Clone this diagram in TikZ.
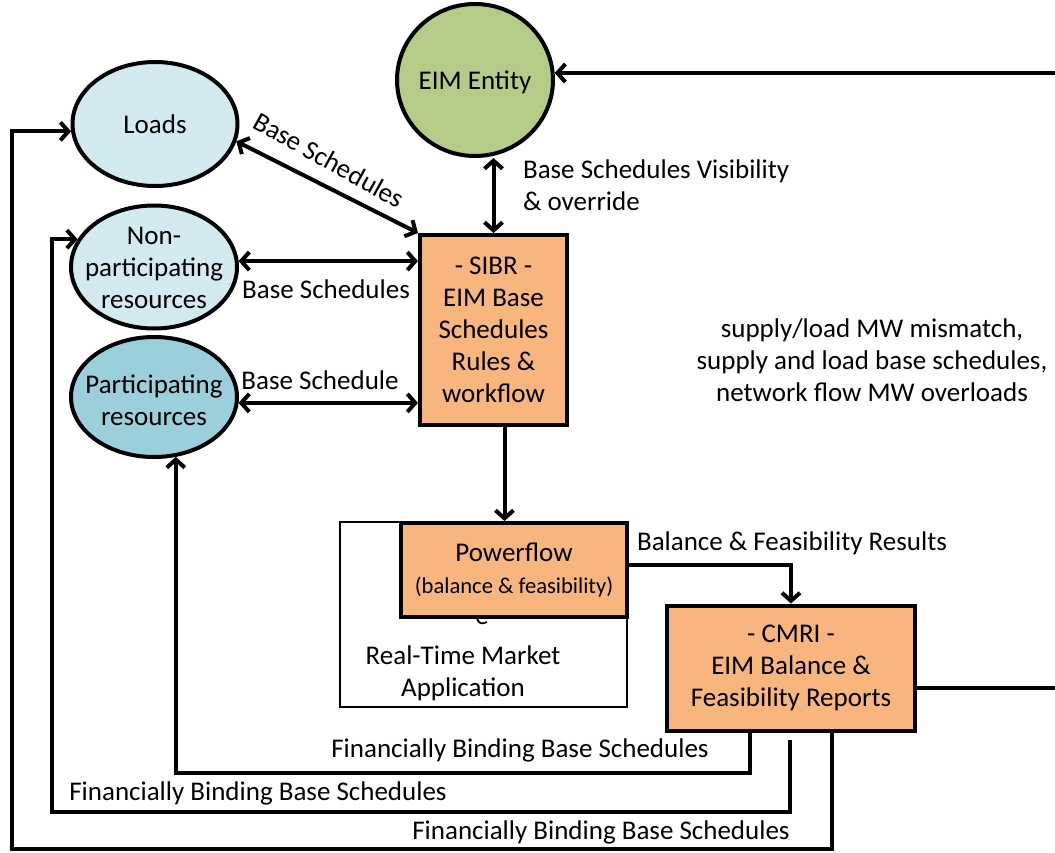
\documentclass[tikz,border=0pt]{standalone}
\usepackage{fontspec}
\setmainfont{Carlito}
\usetikzlibrary{shapes.geometric,arrows.meta,calc}
\definecolor{boxorange}{RGB}{248,181,126}
\definecolor{loadblue}{RGB}{210,234,240}
\definecolor{partblue}{RGB}{156,207,220}
\definecolor{eimgreen}{RGB}{181,203,136}

\begin{document}
\begin{tikzpicture}[x=0.5pt,y=-0.5pt,
		every node/.style={font=\fontsize{13.5}{16}\selectfont},
		ellnode/.style={ellipse,draw,line width=2pt,inner sep=0pt},
		boxnode/.style={rectangle,draw,line width=2pt,fill=boxorange,inner sep=0pt,align=center},
		conn/.style={line width=2pt},
		arr/.style={conn,-{Straight Barb[length=4pt,width=9pt]}},
		biarr/.style={conn,{Straight Barb[length=4pt,width=9pt]}-{Straight Barb[length=4pt,width=9pt]}}]
		%%%%% START %%%%%
		\useasboundingbox (0,0) rectangle (1055,852);
		\coordinate (redge) at (1055,0);
		\coordinate (fb2) at (52,812);
		\coordinate (fb3) at (12,849);
		
		\node[ellnode,fill=loadblue,minimum width=82.5pt,minimum height=62pt] (loads) at (155,124) {};
		\node (loads-t) at (loads) {Loads};
		\node[ellnode,fill=loadblue,minimum width=83pt,minimum height=61.5pt] (nonpart) at (154,267) {};
		\node[align=center] (nonpart-t) at (154,268) {Non-\\participating\\resources};
		\node[ellnode,fill=partblue,minimum width=83pt,minimum height=60pt] (part) at (154,397) {};
		\node[align=center] (part-t) at (154,400) {Participating\\resources};
		\node[ellnode,fill=eimgreen,minimum width=78pt,minimum height=76pt] (eim) at (475,80) {};
		\node (eim-t) at (475,82) {EIM Entity};
		
		\node[draw,line width=0.75pt,minimum width=143.5pt,minimum height=92.5pt] (rtm) at (483.5,614.5) {};
		\node[align=center] (rtm-t) at (463,673) {Real-Time Market\\Application};
		\node[anchor=base] (pf-e) at (482,624) {e};
		\node[boxnode,minimum width=113pt,minimum height=47pt] (pf) at (514,570) {Powerflow\\{\fontsize{11.3}{14}\selectfont (balance \& feasibility)}};
		\node[boxnode,minimum width=73.5pt,minimum height=95pt] (sibr) at (493.5,330) {- SIBR -\\EIM Base\\Schedules\\Rules \&\\workflow};
		\node[boxnode,minimum width=124pt,minimum height=62.5pt] (cmri) at (791,668) {- CMRI -\\EIM Balance \&\\Feasibility Reports};
		
		\draw[biarr] (loads.-12) -- (sibr.north west);
		\draw[biarr] (nonpart.4) -- (nonpart.4 -| sibr.west);
		\draw[biarr] (part.-4) -- (part.-4 -| sibr.west);
		\draw[biarr] (eim.south -| sibr.north) -- (sibr.north);
		\draw[arr] (eim.5 -| redge) -- (eim.5);
		\draw[conn] ([yshift=-10pt]cmri.east) -- ([yshift=-10pt]cmri.east -| redge);
		\draw[arr] ([xshift=5.5pt]sibr.south) -- ([xshift=5.5pt]sibr.south |- pf.north);
		\draw[arr] ([yshift=2.5pt]pf.east) -| (cmri.north);
		\draw[arr] ([xshift=-20.5pt]cmri.south) -- ++(0,40) -| (part.-70);
		\draw[arr] ([xshift=-0.5pt,yshift=-3.5pt]cmri.south) |- (fb2) |- (nonpart.160);
		\draw[arr] ([xshift=20.5pt]cmri.south) |- (fb3) |- (loads.185);
		
		\node[rotate=-29] (lbl-loads) at (329,160) {Base Schedules};
		\node (lbl-nonpart) at (326,289) {Base Schedules};
		\node (lbl-part) at (320,380) {Base Schedule};
		\node[align=left,anchor=west] (lbl-eim) at (516,185) {Base Schedules Visibility\\\& override};
		\node[align=center] (lbl-mismatch) at (872,360) {supply/load MW mismatch,\\supply and load base schedules,\\network flow MW overloads};
		\node (lbl-bfr) at (792,543) {Balance \& Feasibility Results};
		\node (lbl-fb1) at (520,750) {Financially Binding Base Schedules};
		\node (lbl-fb2) at (258,793) {Financially Binding Base Schedules};
		\node (lbl-fb3) at (601,832) {Financially Binding Base Schedules};
		%%%%% END %%%%%
\end{tikzpicture}
\end{document}
